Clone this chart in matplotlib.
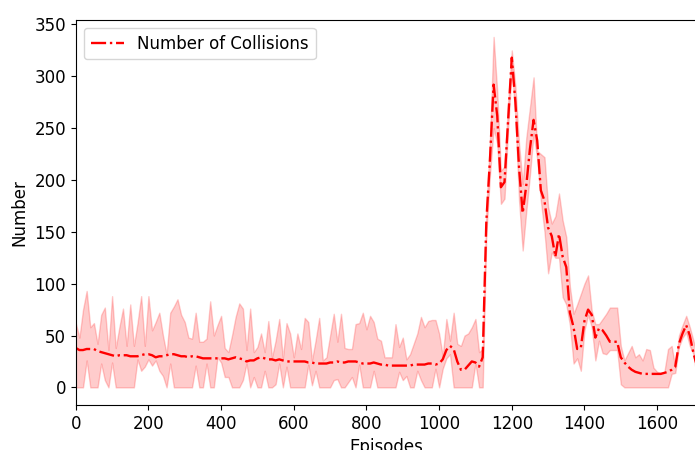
import numpy as np
import matplotlib
matplotlib.use("Agg")
import matplotlib.pyplot as plt

episodes = list(range(0, 1711, 10))

mean_collisions = [
    38, 36, 36, 37, 37, 37, 35, 34, 33, 32,
    31, 30, 31, 31, 31, 30, 30, 30, 31, 32,
    32, 31, 29, 30, 30, 31, 32, 32, 31, 30,
    30, 29, 30, 30, 29, 28, 28, 28, 28, 28,
    28, 28, 27, 28, 29, 28, 27, 25, 26, 26,
    28, 29, 28, 27, 27, 26, 27, 26, 25, 25,
    25, 25, 25, 25, 24, 24, 23, 23, 23, 23,
    24, 24, 25, 24, 24, 25, 25, 25, 24, 23,
    23, 23, 24, 23, 22, 22, 21, 21, 21, 21,
    21, 21, 21, 22, 22, 22, 22, 23, 23, 22,
    23, 27, 36, 40, 37, 25, 17, 17, 21, 25,
    24, 20, 29,
    160, 220, 292, 262, 193, 198, 258, 318, 275, 212,
    168, 195, 230, 258, 238, 190, 180, 154, 146, 126,
    148, 126, 116, 72, 58, 37, 38, 64, 75, 70,
    48, 57, 55, 50, 44, 44, 44, 29, 24, 20,
    17, 15, 14, 13, 13, 13, 13, 13, 13, 14,
    15, 17, 20, 42, 52, 60, 50, 33, 20,
]

upper_band = [
    62, 48, 75, 93, 58, 62, 42, 70, 77, 36,
    88, 38, 58, 76, 40, 80, 40, 62, 88, 40,
    88, 55, 63, 72, 50, 32, 72, 78, 85, 70,
    63, 48, 47, 72, 44, 44, 47, 83, 50, 60,
    69, 38, 34, 50, 68, 81, 76, 36, 76, 34,
    39, 52, 34, 64, 29, 45, 66, 28, 62, 52,
    29, 52, 37, 67, 63, 26, 45, 67, 26, 29,
    50, 71, 44, 71, 38, 37, 37, 61, 62, 72,
    56, 69, 63, 47, 45, 29, 29, 29, 61, 39,
    48, 27, 32, 42, 52, 68, 58, 64, 65, 65,
    52, 30, 66, 45, 72, 42, 40, 50, 52, 58,
    66, 34, 37,
    172, 238, 338, 285, 209, 213, 275, 325, 290, 235,
    196, 241, 270, 299, 228, 225, 222, 174, 158, 165,
    187, 161, 145, 97, 71, 80, 90, 100, 108, 74,
    61, 61, 66, 71, 77, 77, 77, 40, 26, 33,
    40, 29, 32, 26, 37, 36, 19, 15, 14, 15,
    37, 40, 19, 50, 60, 69, 58, 45, 32,
]

lower_band = [
    0, 0, 0, 26, 0, 0, 0, 23, 7, 0,
    24, 0, 0, 0, 0, 0, 0, 27, 16, 20,
    27, 21, 26, 16, 11, 0, 23, 0, 0, 0,
    0, 0, 0, 21, 0, 0, 23, 0, 0, 29,
    24, 10, 10, 0, 0, 0, 7, 23, 0, 10,
    0, 0, 16, 0, 0, 3, 23, 0, 20, 0,
    0, 0, 0, 0, 22, 2, 16, 0, 0, 0,
    0, 7, 8, 0, 0, 5, 10, 0, 22, 0,
    0, 0, 16, 0, 0, 0, 0, 0, 0, 15,
    7, 11, 0, 0, 16, 7, 0, 0, 0, 18,
    0, 18, 28, 32, 0, 0, 0, 0, 0, 0,
    23, 0, 0,
    148, 205, 250, 235, 177, 182, 250, 309, 260, 180,
    132, 170, 205, 245, 220, 180, 150, 110, 130, 125,
    125, 87, 80, 60, 23, 28, 16, 55, 70, 58,
    26, 45, 33, 32, 36, 36, 36, 3, 0, 0,
    0, 0, 0, 0, 0, 0, 0, 0, 0, 0,
    0, 13, 14, 39, 48, 53, 40, 32, 7,
]

fig = plt.figure(figsize=(6.95, 4.5), dpi=100)
ax = fig.add_axes([0.109, 0.10, 0.894, 0.856])

ax.fill_between(episodes, lower_band, upper_band, color="red", alpha=0.2)
ax.plot(episodes, mean_collisions, color="red", linestyle="-.", linewidth=1.7,
        label="Number of Collisions")

ax.set_xlim(0, 1710)
ax.set_ylim(-17, 354.5)
ax.set_xticks([0, 200, 400, 600, 800, 1000, 1200, 1400, 1600])
ax.set_yticks([0, 50, 100, 150, 200, 250, 300, 350])
ax.tick_params(labelsize=12)
ax.set_xlabel("Episodes", fontsize=12)
ax.set_ylabel("Number", fontsize=12)
ax.legend(loc="upper left", fontsize=12)

fig.savefig("out.png", dpi=100)
